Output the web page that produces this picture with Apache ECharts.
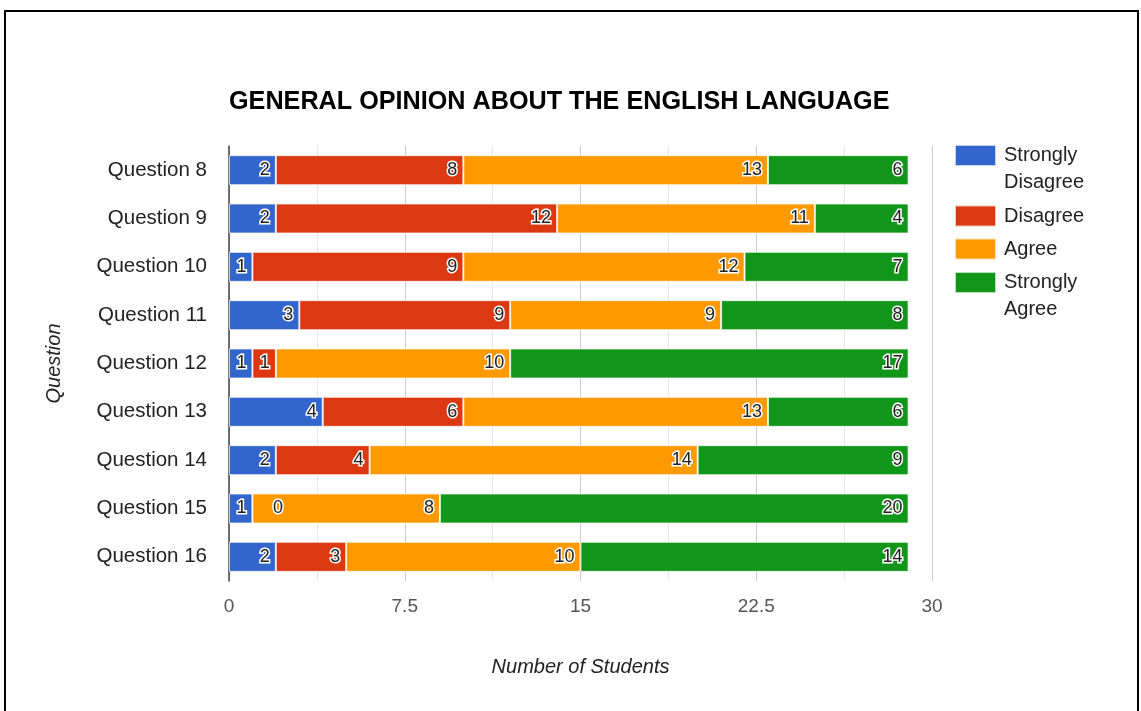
<!DOCTYPE html>
<html>
<head>
<meta charset="utf-8">
<title>General Opinion About the English Language</title>
<script src="https://cdn.jsdelivr.net/npm/echarts@6/dist/echarts.min.js"></script>
<style>
  html, body { margin: 0; padding: 0; background: #fff; }
  #chart { width: 1141px; height: 711px; }
</style>
</head>
<body>
<div id="chart"></div>
<script>
// Survey answers per question (number of students)
const questions = ['Question 8', 'Question 9', 'Question 10', 'Question 11', 'Question 12',
                   'Question 13', 'Question 14', 'Question 15', 'Question 16'];
const stronglyDisagree = [2, 2, 1, 3, 1, 4, 2, 1, 2];
const disagree         = [8, 12, 9, 9, 1, 6, 4, 0, 3];
const agree            = [13, 11, 12, 9, 10, 13, 14, 8, 10];
const stronglyAgree    = [6, 4, 7, 8, 17, 6, 9, 20, 14];
const xTicks = [0, 7.5, 15, 22.5, 30];

const seriesNames = ['Strongly Disagree', 'Disagree', 'Agree', 'Strongly Agree'];
const seriesValues = [stronglyDisagree, disagree, agree, stronglyAgree];
const colors = ['#3366cc', '#dc3912', '#ff9900', '#109618'];

const FONT = 'Arial, "Liberation Sans", Helvetica, sans-serif';

const chart = echarts.init(document.getElementById('chart'), null, { renderer: 'canvas' });

// zero-width segments get their label pushed past the segment end
function toData(values) {
  return values.map(v => v === 0
    ? { value: v, label: { position: 'right', distance: 20 } }
    : v);
}

const series = seriesNames.map((name, i) => ({
  name: name,
  type: 'bar',
  stack: 'total',
  barWidth: 30,
  data: toData(seriesValues[i]),
  itemStyle: { color: colors[i], borderColor: 'rgba(255,255,255,0.7)', borderWidth: 1 },
  label: {
    show: true,
    position: 'insideRight',
    distance: 6,
    fontFamily: FONT,
    fontSize: 18,
    color: '#222',
    textBorderColor: '#fff',
    textBorderWidth: 3
  },
  emphasis: { disabled: true }
}));

// one legend block per entry; two-line names get an empty leading line
// so their first line sits level with the swatch
const LINE_H = 27;
const legendCenters = [155.5, 216, 249, 282.5];
const legends = seriesNames.map((name, i) => {
  const twoLine = name.indexOf('Strongly') === 0;
  const blockHalf = twoLine ? LINE_H * 1.5 : LINE_H / 2;
  return {
    orient: 'vertical',
    left: 954,
    top: legendCenters[i] - blockHalf,
    padding: 0,
    itemWidth: 41,
    itemHeight: 21,
    icon: 'rect',
    selectedMode: false,
    data: [name],
    formatter: n => twoLine ? '\n' + n.replace(' ', '\n') : n,
    textStyle: {
      fontFamily: FONT,
      fontSize: 20,
      color: '#222',
      lineHeight: LINE_H,
      padding: [0, 0, 0, 3]
    }
  };
});

chart.setOption({
  animation: false,
  backgroundColor: '#fff',
  title: {
    text: 'GENERAL OPINION ABOUT THE ENGLISH LANGUAGE',
    left: 229,
    top: 90,
    padding: 0,
    textStyle: { fontFamily: FONT, fontSize: 25.2, fontWeight: 'bold', color: '#000' }
  },
  legend: legends,
  grid: { left: 229, right: 209, top: 146, bottom: 130, containLabel: false },
  xAxis: {
    type: 'value',
    min: xTicks[0],
    max: xTicks[xTicks.length - 1],
    interval: xTicks[1] - xTicks[0],
    axisLine: { show: false },
    axisTick: { show: false },
    axisLabel: {
      margin: 16,
      fontFamily: FONT,
      fontSize: 19,
      color: '#555'
    },
    splitLine: { show: true, lineStyle: { color: '#cccccc', width: 1 } },
    minorTick: { show: false, splitNumber: 2 },
    minorSplitLine: { show: true, lineStyle: { color: '#e8e8e8', width: 1 } },
    name: 'Number of Students',
    nameLocation: 'middle',
    nameGap: 76,
    nameTextStyle: { fontFamily: FONT, fontSize: 20, fontStyle: 'italic', color: '#222' }
  },
  yAxis: {
    type: 'category',
    data: questions,
    inverse: true,
    axisTick: { show: false },
    axisLine: { show: true, lineStyle: { color: '#444', width: 1.5 } },
    axisLabel: { margin: 22, fontFamily: FONT, fontSize: 20.5, color: '#222' },
    splitLine: { show: false },
    name: 'Question',
    nameLocation: 'middle',
    nameGap: 165,
    nameRotate: 90,
    nameTextStyle: { fontFamily: FONT, fontSize: 20, fontStyle: 'italic', color: '#222' }
  },
  series: series,
  graphic: [{
    type: 'polyline',
    silent: true,
    shape: { points: [[5, 711], [5, 11], [1138, 11], [1138, 711]] },
    style: { stroke: '#000', lineWidth: 2, fill: null }
  }]
});
</script>
</body>
</html>
